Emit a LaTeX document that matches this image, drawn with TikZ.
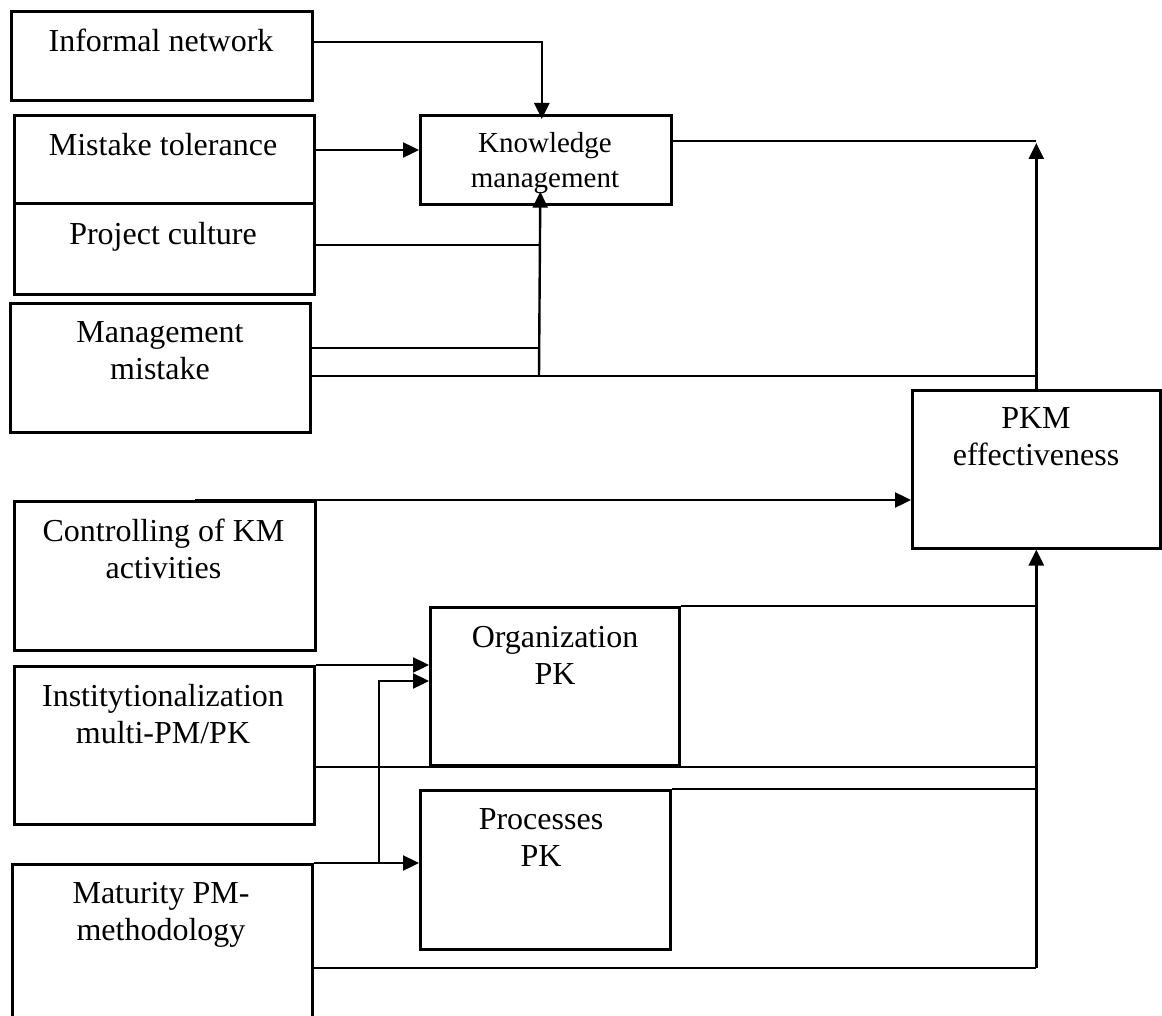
\documentclass[tikz,border=0pt]{standalone}
\usepackage{fontspec}
\setmainfont{Liberation Serif}
\usetikzlibrary{arrows.meta,calc}
\begin{document}
\begin{tikzpicture}[x=1pt,y=-1pt,
  box/.style={draw,line width=2.6pt,rectangle,inner sep=0pt,anchor=north west},
  lbl/.style={anchor=north,inner sep=0pt,align=center,font=\fontsize{32}{37}\selectfont},
  lblsmall/.style={anchor=north,inner sep=0pt,align=center,font=\fontsize{29}{35}\selectfont},
  conn/.style={line width=2.4pt},
  thickconn/.style={line width=3.2pt},
  arr/.style={conn,-{Triangle[length=16pt,width=15pt]}},
  thickarr/.style={thickconn,-{Triangle[length=16pt,width=15pt]}}]
\useasboundingbox (0,0) rectangle (1162,1016);
\clip (0,0) rectangle (1162,1016);

% boxes
\node[box,minimum width=301pt,minimum height=89pt]  (inf)  at (10,10)   {};
\node[box,minimum width=300pt,minimum height=88pt]  (mt)   at (13,114)  {};
\node[box,minimum width=300pt,minimum height=91pt]  (pc)   at (13,202)  {};
\node[box,minimum width=300pt,minimum height=129pt] (mm)   at (9,302)   {};
\node[box,minimum width=251pt,minimum height=89pt]  (km)   at (419,114) {};
\node[box,minimum width=248pt,minimum height=158pt] (pkm)  at (911,389) {};
\node[box,minimum width=301pt,minimum height=149pt] (ctrl) at (13,500)  {};
\node[box,minimum width=300pt,minimum height=158pt] (inst) at (13,665)  {};
\node[box,minimum width=300pt,minimum height=175pt] (mat)  at (11,863)  {};
\node[box,minimum width=249pt,minimum height=158pt] (org)  at (429,606) {};
\node[box,minimum width=250pt,minimum height=159pt] (proc) at (419,789) {};

% labels
\node[lbl] (tinf)  at (161,29)  {Informal network};
\node[lbl] (tmt)   at (163,133) {Mistake tolerance};
\node[lbl] (tpc)   at (163,222) {Project culture};
\node[lbl] (tmm)   at (160,321) {Management\\mistake};
\node[lblsmall] (tkm) at (545,132) {Knowledge\\management};
\node[lbl] (tpkm)  at (1036,407) {PKM\\effectiveness};
\node[lbl] (tctrl) at (163.5,519) {Controlling of KM\\activities};
\node[lbl] (tinst) at (163,684) {Institytionalization\\multi-PM/PK};
\node[lbl] (tmat)  at (161,882) {Maturity PM-\\methodology};
\node[lbl] (torg)  at (555,626) {Organization\\PK};
\node[lbl] (tproc) at (541,808) {Processes\\PK};

% junction coordinates (bus at x of pkm centre)
\coordinate (kmbus)  at (539,376);
\coordinate (pcend)  at (539,245);
\coordinate (mmend)  at (539,348);
\coordinate (br)     at (379,863);
\coordinate (kmpk)   at (pkm.north |- 0,141);
\coordinate (mmpk)   at (pkm.north |- 0,376);
\coordinate (orgpk)  at (pkm.south |- 0,606);
\coordinate (instpk) at (pkm.south |- 0,767);
\coordinate (procpk) at (pkm.south |- 0,789);
\coordinate (matpk)  at (pkm.south |- 0,968);

% upper connectors
\draw[arr] ([yshift=-32pt]inf.north east) -| ([xshift=-4pt,yshift=-5pt]km.north);
\draw[arr] ([yshift=-36pt]mt.north east) -- ([yshift=-36pt]km.north west);
\draw[conn] ([yshift=-43pt,xshift=-3pt]pc.north east) -- (pcend);
\draw[conn] ([yshift=-46pt]mm.north east) -- (mmend);
\draw[conn] ([yshift=-74pt]mm.north east) -- (mmpk);
\draw[arr] (kmbus) -- ([xshift=-5.5pt,yshift=14pt]km.south);
\draw[conn] ([yshift=-27pt]km.north east) -- (kmpk);
\draw[arr] (pkm.north) -- ([yshift=-2pt]kmpk);

% controlling
\draw[arr] ($(ctrl.north west)!0.6!(ctrl.north east)$) -- (pkm.west |- ctrl.north);

% lower connectors
\draw[arr] (inst.north east) -- (org.west |- inst.north east);
\draw[conn] ([yshift=-102pt]inst.north east) -- (instpk);
\draw[arr] (mat.north east) -- (proc.west |- mat.north east);
\draw[arr] (br) |- ([yshift=-75pt]org.north west);
\draw[conn] (org.north east) -- (orgpk);
\draw[conn] (proc.north east) -- (procpk);
\draw[conn] ([yshift=-105pt]mat.north east) -- (matpk);
\draw[thickarr] (matpk) -- (pkm.south);
\end{tikzpicture}
\end{document}
